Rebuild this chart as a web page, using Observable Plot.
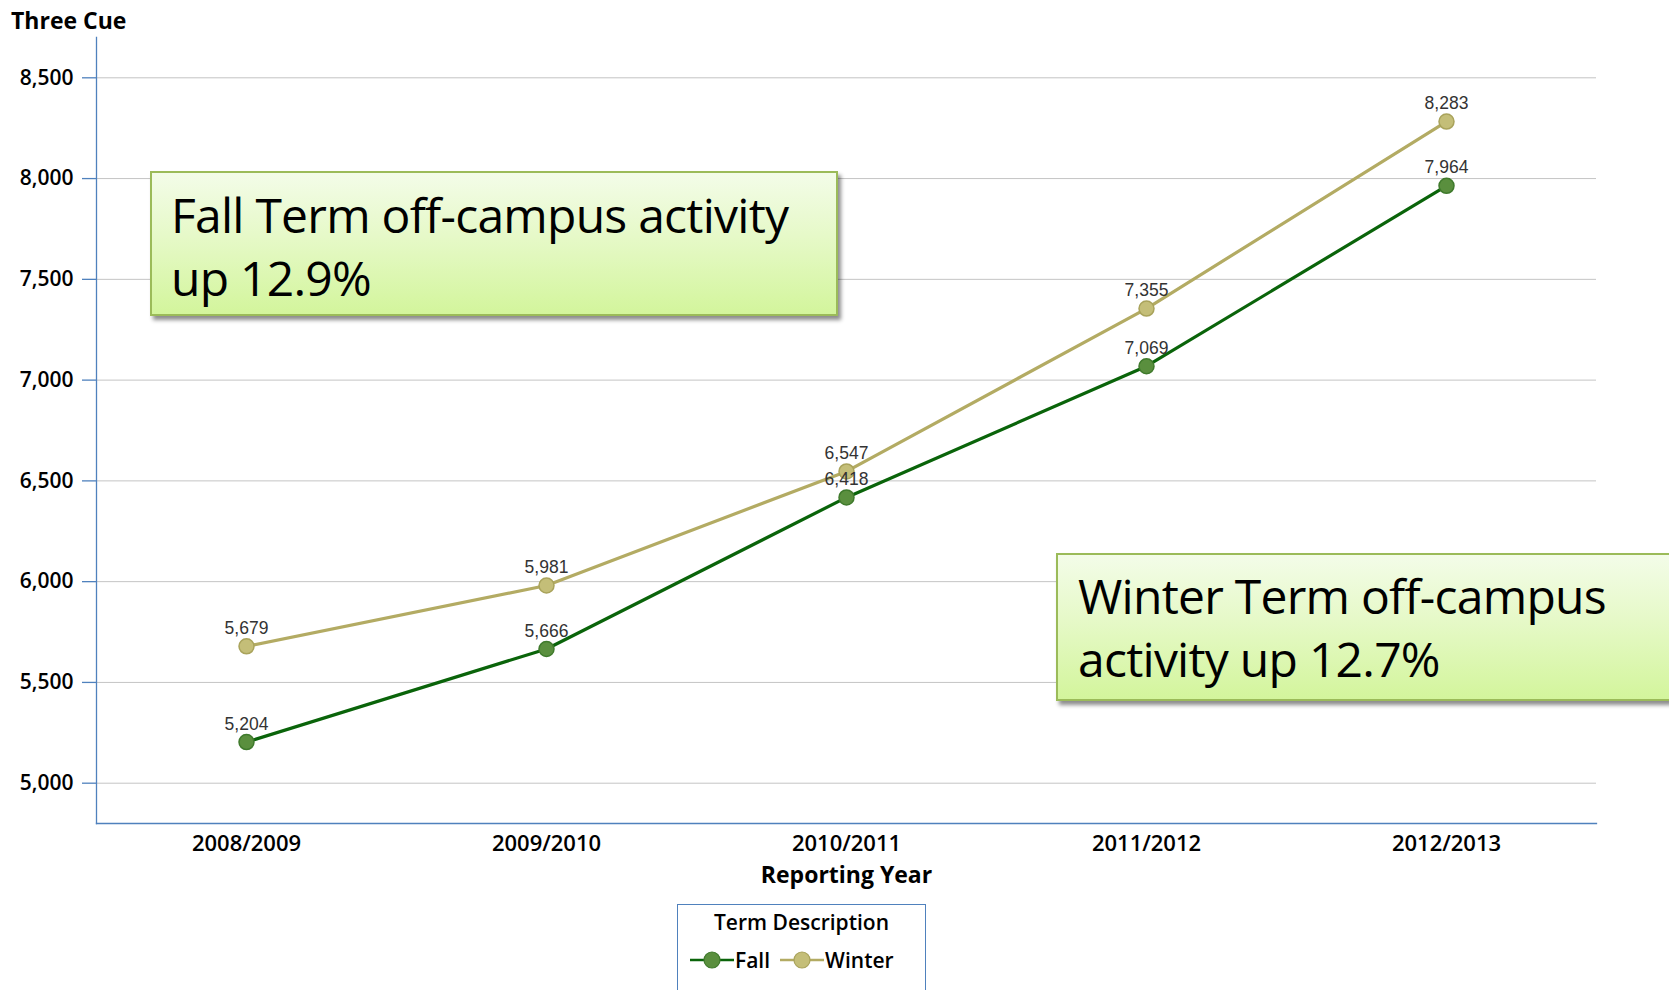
<!DOCTYPE html>
<html>
<head>
<meta charset="utf-8">
<script src="https://cdn.jsdelivr.net/npm/d3@7"></script>
<script src="https://cdn.jsdelivr.net/npm/@observablehq/plot@0.6"></script>
<style>
  html, body { margin: 0; padding: 0; background: #fff; }
  #wrap { position: relative; width: 1669px; height: 990px; overflow: hidden; font-family: "Open Sans", sans-serif; }
  #chart { position: absolute; left: 0; top: 0; }
  #title { position: absolute; left: 11px; top: 4px; font: 700 23px "Open Sans", sans-serif; color: #000; }
  .note { position: absolute; box-sizing: border-box; border: 2px solid #9bbb59;
    background: linear-gradient(to bottom, #f3fce8 0%, #e6f9c8 45%, #d3f59c 100%);
    box-shadow: 3px 4px 4px rgba(0,0,0,0.45);
    font: 400 48px "Open Sans", sans-serif; letter-spacing: -0.75px; line-height: 63px; color: #000; }
  #legend { position: absolute; left: 677px; top: 904px; width: 249px; height: 120px; box-sizing: border-box;
    border: 1px solid #4f81bd; font: 600 21px "Open Sans", sans-serif; color: #000; }
  #legend .lt { position: absolute; left: 0; width: 100%; top: 3px; text-align: center; }
  #legend .items { position: absolute; left: 11px; top: 41px; display: flex; align-items: center; white-space: nowrap; }
  #legend .items span { margin-right: 9px; }
</style>
</head>
<body>
<div id="wrap">
  <div id="chart"></div>
  <div id="title">Three Cue</div>
  <div class="note" id="noteFall" style="left:150px; top:171px; width:688px; height:145px; padding:10px 0 0 19px;"></div>
  <div class="note" id="noteWinter" style="left:1056px; top:553px; width:660px; height:148px; padding:9px 0 0 20px;"></div>
  <div id="legend"><div class="lt"></div><div class="items"></div></div>
</div>
<script>
// ---- data ----
const years = ["2008/2009", "2009/2010", "2010/2011", "2011/2012", "2012/2013"];
const fall = [5204, 5666, 6418, 7069, 7964];
const winter = [5679, 5981, 6547, 7355, 8283];
const terms = ["Fall", "Winter"];
const yTicks = [5000, 5500, 6000, 6500, 7000, 7500, 8000, 8500];
const titleText = "Three Cue";
const xLabel = "Reporting Year";
const legendTitle = "Term Description";
const noteFall = ["Fall Term off-campus activity", "up 12.9%"];
const noteWinter = ["Winter Term off-campus", "activity up 12.7%"];

const lineColors = {Fall: "#0a640a", Winter: "#b3ab63"};
const dotFill = {Fall: "#5a8f3e", Winter: "#c4be78"};
const dotStroke = {Fall: "#3f7a2c", Winter: "#a9a35b"};

const data = [];
years.forEach((y, i) => {
  data.push({year: y, term: "Winter", value: winter[i]});
});
years.forEach((y, i) => {
  data.push({year: y, term: "Fall", value: fall[i]});
});

const fmt = d3.format(",");
const axisBlue = "#4f81bd";

const plot = Plot.plot({
  width: 1669,
  height: 895,
  marginLeft: 96,
  marginRight: 73,
  marginTop: 37,
  marginBottom: 72,
  style: {fontFamily: "'Open Sans', sans-serif", background: "transparent", overflow: "visible"},
  x: {type: "point", domain: years, padding: 0.5, label: null},
  y: {domain: [4800, 8700], label: null},
  marks: [
    Plot.gridY(yTicks, {stroke: "#c4c4c4", strokeOpacity: 1, strokeWidth: 1}),
    Plot.frame({anchor: "left", stroke: axisBlue, strokeWidth: 1.3}),
    Plot.frame({anchor: "bottom", stroke: axisBlue, strokeWidth: 1.3}),
    Plot.axisY(yTicks, {tickSize: 14, tickPadding: 9, stroke: axisBlue, strokeWidth: 1.3, tickFormat: fmt, fontSize: 21, fontWeight: 600, label: null}),
    Plot.axisX({tickSize: 0, tickPadding: 12, fontSize: 22, fontWeight: 600, label: null}),
    Plot.text([xLabel], {frameAnchor: "bottom", dy: 52, text: d => d, fontSize: 23, fontWeight: 700, lineAnchor: "middle"}),
    Plot.line(data.filter(d => d.term === "Winter"), {x: "year", y: "value", stroke: lineColors.Winter, strokeWidth: 3.2}),
    Plot.line(data.filter(d => d.term === "Fall"), {x: "year", y: "value", stroke: lineColors.Fall, strokeWidth: 3.2}),
    Plot.dot(data, {x: "year", y: "value", r: 7.5, fill: d => dotFill[d.term], stroke: d => dotStroke[d.term], strokeWidth: 1.5}),
    Plot.text(data, {x: "year", y: "value", text: d => fmt(d.value), dy: -18, lineAnchor: "middle", fontSize: 17.5, fill: "#333", fontFamily: "'Liberation Sans', Arial, sans-serif"})
  ]
});
document.getElementById("chart").appendChild(plot);

document.getElementById("title").textContent = titleText;
document.getElementById("noteFall").innerHTML = noteFall.join("<br>");
document.getElementById("noteWinter").innerHTML = noteWinter.join("<br>");

const leg = document.getElementById("legend");
leg.querySelector(".lt").textContent = legendTitle;
const items = leg.querySelector(".items");
terms.forEach(t => {
  const svg = d3.create("svg").attr("width", 46).attr("height", 22).style("display", "block");
  svg.append("line").attr("x1", 1).attr("x2", 45).attr("y1", 11).attr("y2", 11).attr("stroke", lineColors[t]).attr("stroke-width", 2.5);
  svg.append("circle").attr("cx", 23).attr("cy", 11).attr("r", 8).attr("fill", dotFill[t]).attr("stroke", dotStroke[t]).attr("stroke-width", 1.2);
  items.appendChild(svg.node());
  const s = document.createElement("span");
  s.textContent = t;
  items.appendChild(s);
});
</script>
</body>
</html>
